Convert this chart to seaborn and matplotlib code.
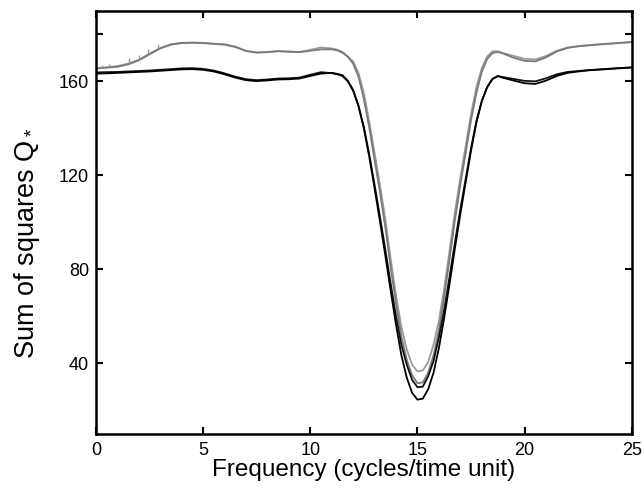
import numpy as np
import pandas as pd
import seaborn as sns
import matplotlib
matplotlib.use("Agg")
import matplotlib.pyplot as plt

# frequency grid (coarse on the flat parts, finer through the dip)
freq = [0, 0.5, 1, 1.5, 2, 2.5, 3, 3.5, 4, 4.5, 5, 5.5, 6, 6.5, 7, 7.5, 8, 8.5, 9, 9.5, 10, 10.5, 11,
        11.25, 11.5, 11.75, 12, 12.25, 12.5, 12.75, 13, 13.25, 13.5, 13.75, 14, 14.25, 14.5, 14.75,
        15, 15.25, 15.5, 15.75, 16, 16.25, 16.5, 16.75, 17, 17.25, 17.5, 17.75, 18, 18.25, 18.5, 18.75, 19,
        19.5, 20, 20.5, 21, 21.5, 22, 22.5, 23, 23.5, 24, 24.5, 25]

gray_a = [165.5, 166, 166.5, 167.5, 169.2, 171.8, 174.2, 175.8, 176.4, 176.5, 176.4, 176, 175.8, 174.8, 173, 172.3,
          172.5, 172.9, 172.7, 172.5, 173.4, 174.4, 174,
          173.5, 172.5, 170.5, 168.5, 163.5, 155, 143, 129.5, 116, 101.5, 84.5, 69, 55.5, 46, 39.5,
          36.6, 37, 40.5, 48, 58, 72, 88, 104.5, 119, 132.5, 146, 157.5, 165.5, 170.5, 172.8, 172.8, 172,
          170.8, 169.6, 169.3, 170.8, 173, 174.4, 175, 175.4, 175.8, 176.1, 176.4, 176.7]

gray_b = [165.5, 165.8, 166.2, 167.2, 168.9, 171.5, 174, 175.6, 176.3, 176.4, 176.3, 175.9, 175.6, 174.6, 172.9, 172.2,
          172.4, 172.8, 172.6, 172.4, 173, 173.6, 173.6,
          173.2, 172.2, 170.5, 167.5, 162, 152.5, 140.5, 126.5, 113, 98, 81, 65.5, 51.5, 41.5, 35,
          31.6, 31.9, 36, 43.5, 54, 68.5, 84.5, 101, 116, 129.5, 143.5, 155, 164, 169.5, 172, 172.5, 171.8,
          170, 168.7, 168.5, 170.2, 172.7, 174.2, 174.9, 175.3, 175.7, 176, 176.4, 176.7]

black_d = [163.8, 163.9, 164, 164.2, 164.4, 164.6, 164.9, 165.2, 165.5, 165.6, 165.3, 164.6, 163.4, 162, 160.9, 160.5,
           160.8, 161.2, 161.3, 161.6, 162.8, 163.9, 163.5,
           163, 162.3, 160, 156, 149.5, 140.5, 129, 116, 102.5, 88.5, 74, 60, 48, 39.5, 33,
           29.9, 30.1, 34.5, 41, 51, 63, 77, 91.5, 105.5, 118.5, 131.5, 143, 151.5, 157.5, 161, 162.3, 161.8,
           161, 160.2, 160, 161.3, 163, 164, 164.4, 164.8, 165.1, 165.4, 165.7, 165.9]

black_e = [163.3, 163.4, 163.6, 163.8, 164, 164.2, 164.5, 164.8, 165.1, 165.2, 164.9, 164.2, 163, 161.6, 160.5, 160.1,
           160.4, 160.8, 160.9, 161.2, 162.3, 163.3, 163.6,
           163.2, 162.6, 160.3, 156.3, 149.5, 140, 128, 114.5, 100.5, 86, 71, 56.5, 43.5, 34, 27.5,
           24.6, 25, 29, 36, 46.5, 59.5, 74, 89, 103.5, 117, 130.5, 142.5, 151.5, 157.5, 161, 162.2, 161.5,
           160.3, 159.2, 158.9, 160.3, 162.3, 163.6, 164.2, 164.7, 165, 165.3, 165.6, 165.9]

# little spikes on the gray curve near the origin
spike_x = [0.3, 0.6, 1.55, 2.0, 2.45, 2.9]
spike_lo = [165.8, 166.1, 167.6, 169.2, 171.6, 174.0]
spike_hi = [167.0, 167.2, 169.8, 171.3, 173.8, 175.8]

curves = {"gray_a": gray_a, "gray_b": gray_b, "black_d": black_d, "black_e": black_e}
colors = {"gray_a": "#9a9a9a", "gray_b": "#7a7a7a", "black_d": "#111111", "black_e": "#000000"}

df = pd.concat([pd.DataFrame({"freq": freq, "Q": v, "curve": k}) for k, v in curves.items()])

sns.set_style("ticks")
plt.rcParams["font.family"] = ["Liberation Sans", "DejaVu Sans"]
plt.rcParams["mathtext.fontset"] = "custom"
plt.rcParams["mathtext.rm"] = "Liberation Sans"
plt.rcParams["mathtext.it"] = "Liberation Sans"
plt.rcParams["text.color"] = "black"
plt.rcParams["axes.labelcolor"] = "black"

fig = plt.figure(figsize=(6.44, 4.92), dpi=100)
ax = fig.add_axes([0.149, 0.118, 0.832, 0.86])

sns.lineplot(data=df, x="freq", y="Q", hue="curve", palette=colors, ax=ax,
             linewidth=1.3, legend=False, sort=False, estimator=None)
ax.vlines(spike_x, spike_lo, spike_hi, color="#9a9a9a", linewidth=1.0)

ax.set_xlim(0, 25)
ax.set_ylim(10, 190)
ax.set_xticks([0, 5, 10, 15, 20, 25])
ax.set_yticks([40, 80, 120, 160, 180])
ax.set_yticklabels(["40", "80", "120", "160", ""])
ax.tick_params(direction="in", length=5, width=1.5, labelsize=13,
               top=True, right=True, colors="black", labelcolor="black")
ax.tick_params(axis="y", pad=5)
ax.tick_params(axis="x", pad=6)
for s in ax.spines.values():
    s.set_linewidth(1.8)
    s.set_color("black")

ax.set_xlabel("Frequency (cycles/time unit)", fontsize=17.5, labelpad=0, color="black")
ax.set_ylabel(r"Sum of squares Q$_*$", fontsize=19.5, color="black")
ax.yaxis.set_label_coords(-0.1, 0.45)

plt.savefig("out.png", dpi=100)
